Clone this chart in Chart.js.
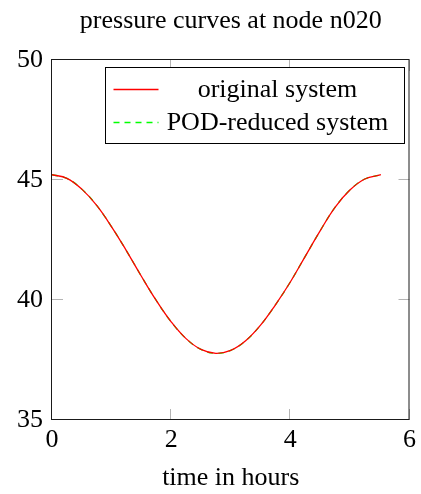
<!DOCTYPE html>
<html>
<head>
<meta charset="utf-8">
<script src="https://cdn.jsdelivr.net/npm/chart.js@4/dist/chart.umd.min.js"></script>
<style>
  html, body { margin: 0; padding: 0; background: #fff; }
  #wrap { width: 421px; height: 494px; }
</style>
</head>
<body>
<div id="wrap"><canvas id="c" width="421" height="494"></canvas></div>
<script>
const chartTitle = 'pressure curves at node n020';
const xAxisTitle = 'time in hours';
const seriesNames = ['original system', 'POD-reduced system'];
const timeHours = [0, 0.25, 0.5, 0.75, 1, 1.25, 1.5, 1.75, 2, 2.25, 2.5, 2.75, 3, 3.25, 3.5, 3.75, 4, 4.25, 4.5, 4.75, 5, 5.25, 5.52];
const pressureOriginal = [45.22, 45.07, 44.62, 43.94, 43.05, 42.05, 40.99, 39.98, 39.09, 38.39, 37.94, 37.78, 37.9, 38.3, 38.95, 39.8, 40.75, 41.82, 42.88, 43.86, 44.58, 45.04, 45.22];
const pressurePOD = [45.22, 45.07, 44.62, 43.94, 43.05, 42.05, 40.99, 39.98, 39.09, 38.39, 37.94, 37.78, 37.9, 38.3, 38.95, 39.8, 40.75, 41.82, 42.88, 43.86, 44.58, 45.04, 45.22];
const xTicks = [0, 2, 4, 6];
const yTicks = [35, 40, 45, 50];

const FONT = "'Liberation Serif', 'Times New Roman', serif";
const RED = 'rgb(255,0,0)';
const GREEN = 'rgb(0,255,0)';

const toPoints = (xs, ys) => xs.map((x, i) => ({ x: x, y: ys[i] }));

const frameAndTicks = {
  id: 'frameAndTicks',
  beforeDatasetsDraw(chart) {
    const { ctx, chartArea: a, scales } = chart;
    const L = 11;
    ctx.save();
    ctx.strokeStyle = '#b4b4b4';
    ctx.lineWidth = 1;
    ctx.beginPath();
    scales.x.ticks.forEach(t => {
      const px = Math.round(scales.x.getPixelForValue(t.value)) - 0.5;
      ctx.moveTo(px, a.bottom); ctx.lineTo(px, a.bottom - L);
      ctx.moveTo(px, a.top); ctx.lineTo(px, a.top + L);
    });
    scales.y.ticks.forEach(t => {
      const py = Math.round(scales.y.getPixelForValue(t.value)) - 0.5;
      ctx.moveTo(a.left, py); ctx.lineTo(a.left + L, py);
      ctx.moveTo(a.right, py); ctx.lineTo(a.right - L, py);
    });
    ctx.stroke();
    ctx.restore();
  },
  afterDatasetsDraw(chart) {
    const { ctx, chartArea: a } = chart;
    ctx.save();
    ctx.strokeStyle = '#1a1a1a';
    ctx.lineWidth = 1;
    ctx.strokeRect(a.left - 0.5, a.top - 0.5, a.right - a.left, a.bottom - a.top);
    ctx.restore();
  }
};

const boxLegend = {
  id: 'boxLegend',
  afterDatasetsDraw(chart) {
    const { ctx, chartArea: a } = chart;
    const bx = a.left + 53.5, by = a.top + 7.5, bw = 299, bh = 76;
    const colors = [RED, GREEN];
    const dashes = [[], [6, 5]];
    ctx.save();
    ctx.fillStyle = '#fff';
    ctx.fillRect(bx, by, bw, bh);
    ctx.strokeStyle = '#000';
    ctx.lineWidth = 1;
    ctx.strokeRect(bx, by, bw, bh);
    ctx.restore();
    chart.data.datasets.forEach((ds, i) => {
      const ly = by + 22 + i * 33;
      ctx.save();
      ctx.beginPath();
      ctx.setLineDash(dashes[i]);
      ctx.strokeStyle = colors[i];
      ctx.lineWidth = 1.3;
      ctx.moveTo(bx + 8, ly);
      ctx.lineTo(bx + 53, ly);
      ctx.stroke();
      ctx.restore();
      ctx.save();
      ctx.font = '26px ' + FONT;
      ctx.textAlign = 'center';
      ctx.textBaseline = 'alphabetic';
      ctx.fillStyle = '#000';
      ctx.fillText(ds.label, bx + 172, ly + 7);
      ctx.restore();
    });
  }
};

new Chart(document.getElementById('c'), {
  type: 'line',
  data: {
    datasets: [
      {
        label: seriesNames[0],
        data: toPoints(timeHours, pressureOriginal),
        borderColor: RED,
        borderWidth: 1.3,
        pointRadius: 0,
        tension: 0.4,
        fill: false
      },
      {
        label: seriesNames[1],
        data: toPoints(timeHours, pressurePOD),
        borderColor: GREEN,
        borderWidth: 1.3,
        borderDash: [6, 5],
        pointRadius: 0,
        tension: 0.4,
        fill: false
      }
    ]
  },
  options: {
    responsive: false,
    animation: false,
    layout: { padding: { left: 0, right: 9, top: 0, bottom: 0 } },
    plugins: {
      legend: { display: false },
      tooltip: { enabled: false },
      title: {
        display: true,
        fullSize: false,
        text: chartTitle,
        color: '#000',
        font: { family: FONT, size: 26, weight: 'normal' },
        padding: { top: 6, bottom: 22.8 }
      }
    },
    scales: {
      x: {
        type: 'linear',
        min: 0,
        max: 6,
        afterFit(s) { s.height = 74; },
        afterBuildTicks(s) { s.ticks = xTicks.map(v => ({ value: v })); },
        grid: { display: false, drawTicks: false },
        border: { display: false },
        ticks: { color: '#000', padding: 5, font: { family: FONT, size: 26 }, maxRotation: 0 },
        title: {
          display: true,
          text: xAxisTitle,
          color: '#000',
          font: { family: FONT, size: 26 },
          padding: { top: 0, bottom: 0.5 }
        }
      },
      y: {
        type: 'linear',
        min: 35,
        max: 50,
        afterFit(s) { s.width = 52; },
        afterBuildTicks(s) { s.ticks = yTicks.map(v => ({ value: v })); },
        grid: { display: false, drawTicks: false },
        border: { display: false },
        ticks: { color: '#000', padding: 9, font: { family: FONT, size: 26 } }
      }
    }
  },
  plugins: [frameAndTicks, boxLegend]
});
</script>
</body>
</html>
